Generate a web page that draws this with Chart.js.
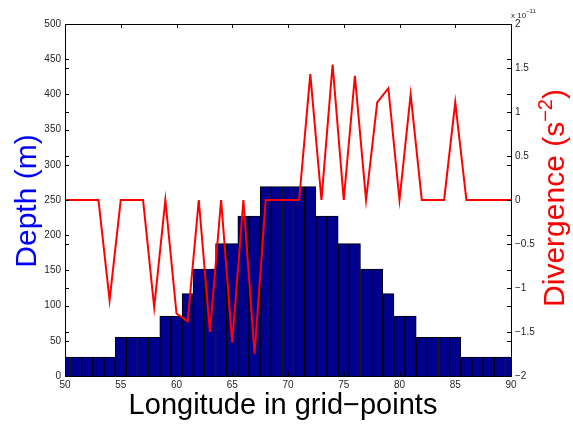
<!DOCTYPE html>
<html>
<head>
<meta charset="utf-8">
<script src="https://cdn.jsdelivr.net/npm/chart.js@4"></script>
<style>
  body { margin: 0; background: #fff; }
  #chart { display: block; }
</style>
</head>
<body>
<canvas id="chart" width="573" height="425"></canvas>
<script>
// Longitude grid points (x)
const longitude = [50, 51, 52, 53, 54, 55, 56, 57, 58, 59, 60, 61, 62, 63, 64, 65, 66, 67, 68, 69, 70,
                   71, 72, 73, 74, 75, 76, 77, 78, 79, 80, 81, 82, 83, 84, 85, 86, 87, 88, 89, 90];

// Depth (m), bars
const depth = [27, 27, 27, 27, 27, 55, 55, 55, 55, 85, 85, 117, 152, 152, 188, 188, 227, 227, 269, 269, 269,
               269, 269, 227, 227, 188, 188, 152, 152, 117, 85, 85, 55, 55, 55, 55, 27, 27, 27, 27, 27];

// Divergence in units of 1e-11 s^-2, line
const divergence = [0, 0, 0, 0, -1.14, 0, 0, 0, -1.22, 0, -1.29, -1.38, 0, -1.50, 0, -1.62, 0, -1.75, 0, 0, 0,
                    0, 1.43, 0, 1.54, 0, 1.41, 0, 1.11, 1.27, 0, 1.20, 0, 0, 0, 1.11, 0, 0, 0, 0, 0];

const depthTicks = [0, 50, 100, 150, 200, 250, 300, 350, 400, 450, 500];
const divTicks = [-2, -1.5, -1, -0.5, 0, 0.5, 1, 1.5, 2];
const lonTicks = [50, 55, 60, 65, 70, 75, 80, 85, 90];

const tickFont = { family: 'Liberation Sans, Arial, sans-serif', size: 10 };
const tickColor = '#262626';

function fmtMinus(v) {
    return v < 0 ? '\u2212' + Math.abs(v) : String(v);
}

// Box, inward ticks, titles (matlab-like look)
const matlabFrame = {
    id: 'matlabFrame',
    afterDraw(chart) {
        const { ctx, chartArea: a, scales } = chart;
        const L = 4;
        ctx.save();
        ctx.strokeStyle = '#000';
        ctx.lineWidth = 1;
        ctx.strokeRect(Math.round(a.left) + 0.5, Math.round(a.top) + 0.5,
                       Math.round(a.right - a.left), Math.round(a.bottom - a.top));
        ctx.beginPath();
        lonTicks.forEach(v => {
            const x = Math.round(scales.x.getPixelForValue(v)) + 0.5;
            ctx.moveTo(x, a.bottom); ctx.lineTo(x, a.bottom - L);
            ctx.moveTo(x, a.top); ctx.lineTo(x, a.top + L);
        });
        depthTicks.forEach(v => {
            const y = Math.round(scales.y.getPixelForValue(v)) + 0.5;
            ctx.moveTo(a.left, y); ctx.lineTo(a.left + L, y);
            ctx.moveTo(a.right, y); ctx.lineTo(a.right - L, y);
        });
        divTicks.forEach(v => {
            const y = Math.round(scales.y1.getPixelForValue(v)) + 0.5;
            ctx.moveTo(a.left, y); ctx.lineTo(a.left + L, y);
            ctx.moveTo(a.right, y); ctx.lineTo(a.right - L, y);
        });
        ctx.stroke();

        // exponent label
        ctx.fillStyle = tickColor;
        ctx.textBaseline = 'alphabetic';
        ctx.textAlign = 'left';
        ctx.font = '8px Liberation Sans, Arial, sans-serif';
        ctx.fillText('x 10', a.right, 18);
        ctx.font = '6px Liberation Sans, Arial, sans-serif';
        ctx.fillText('\u221211', a.right + 15, 13);

        // x title
        ctx.fillStyle = '#000';
        ctx.textAlign = 'center';
        ctx.font = '29px Liberation Sans, Arial, sans-serif';
        ctx.fillText('Longitude in grid\u2212points', 283, 414);

        // left title
        ctx.save();
        ctx.translate(36, 201);
        ctx.rotate(-Math.PI / 2);
        ctx.fillStyle = '#0000ff';
        ctx.font = '30px Liberation Sans, Arial, sans-serif';
        ctx.textAlign = 'center';
        ctx.fillText('Depth (m)', 0, 0);
        ctx.restore();

        // right title with superscript
        ctx.save();
        ctx.translate(564, 198);
        ctx.rotate(-Math.PI / 2);
        ctx.fillStyle = '#ff0000';
        const big = '30px Liberation Sans, Arial, sans-serif';
        const small = '20px Liberation Sans, Arial, sans-serif';
        const p1 = 'Divergence (s', p2 = '\u22122', p3 = ')';
        ctx.font = big;
        const w1 = ctx.measureText(p1).width, w3 = ctx.measureText(p3).width;
        ctx.font = small;
        const w2 = ctx.measureText(p2).width;
        let x0 = -(w1 + w2 + w3) / 2;
        ctx.textAlign = 'left';
        ctx.font = big;
        ctx.fillText(p1, x0, 0);
        ctx.font = small;
        ctx.fillText(p2, x0 + w1, -12);
        ctx.font = big;
        ctx.fillText(p3, x0 + w1 + w2, 0);
        ctx.restore();

        ctx.restore();
    }
};

new Chart(document.getElementById('chart'), {
    type: 'bar',
    data: {
        datasets: [
            {
                type: 'line',
                label: 'Divergence',
                data: longitude.map((x, i) => ({ x: x, y: divergence[i] })),
                yAxisID: 'y1',
                borderColor: '#ff0000',
                borderWidth: 2,
                pointRadius: 0,
                tension: 0,
                fill: false,
                order: 0
            },
            {
                type: 'bar',
                label: 'Depth',
                data: longitude.map((x, i) => ({ x: x, y: depth[i] })),
                yAxisID: 'y',
                backgroundColor: '#00008f',
                borderColor: '#000000',
                borderWidth: 1,
                barPercentage: 1,
                categoryPercentage: 1,
                clip: 0,
                order: 1
            }
        ]
    },
    options: {
        responsive: false,
        animation: false,
        layout: { padding: { top: 24, left: 0, right: 0, bottom: 0 } },
        plugins: {
            legend: { display: false },
            tooltip: { enabled: false }
        },
        scales: {
            x: {
                type: 'linear',
                min: 50,
                max: 90,
                offset: false,
                afterBuildTicks: s => { s.ticks = lonTicks.map(v => ({ value: v })); },
                ticks: { font: tickFont, color: tickColor, padding: 3, maxRotation: 0 },
                grid: { display: false, drawTicks: false },
                border: { display: true, color: '#000' },
                afterFit: s => { s.height = 49; }
            },
            y: {
                position: 'left',
                min: 0,
                max: 500,
                afterBuildTicks: s => { s.ticks = depthTicks.map(v => ({ value: v })); },
                ticks: { font: tickFont, color: tickColor, padding: 4 },
                grid: { display: false, drawTicks: false },
                border: { display: true, color: '#000' },
                afterFit: s => { s.width = 65; }
            },
            y1: {
                position: 'right',
                min: -2,
                max: 2,
                afterBuildTicks: s => { s.ticks = divTicks.map(v => ({ value: v })); },
                ticks: { font: tickFont, color: tickColor, padding: 4, callback: v => fmtMinus(v) },
                grid: { display: false, drawTicks: false },
                border: { display: true, color: '#000' },
                afterFit: s => { s.width = 62; }
            }
        }
    },
    plugins: [matlabFrame]
});
</script>
</body>
</html>
